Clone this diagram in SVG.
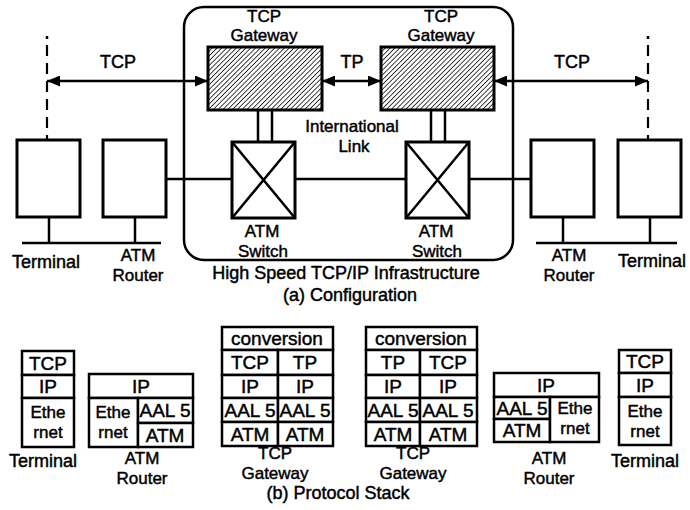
<svg xmlns="http://www.w3.org/2000/svg" width="690" height="510" viewBox="0 0 690 510">
<defs>
<pattern id="hatch" patternUnits="userSpaceOnUse" width="3.4" height="3.4" patternTransform="rotate(45)">
<line x1="0" y1="0" x2="0" y2="3.4" stroke="#000" stroke-width="1.5"/>
</pattern>
<marker id="arr" markerUnits="userSpaceOnUse" markerWidth="13" markerHeight="11" refX="13" refY="5.5" orient="auto-start-reverse">
<path d="M0,0 L13,5.5 L0,11 z" fill="#000"/>
</marker>
</defs>
<style>
text{font-family:"Liberation Sans",Arial,sans-serif;fill:#000;stroke:#000;stroke-width:0.45;text-anchor:middle}
.lb{font-size:18px}
.l2{font-size:17px}
.st{font-size:19px}
.s2{font-size:17px}
.box{fill:#fff;stroke:#000;stroke-width:3}
.gw{fill:url(#hatch);stroke:#000;stroke-width:3}
.ln{stroke:#000;stroke-width:2.5;fill:none}
.cell{fill:#fff;stroke:#000;stroke-width:2.5}
.dash{stroke:#000;stroke-width:2.2;stroke-dasharray:11 7;fill:none}
</style>
<rect width="690" height="510" fill="#fff"/>

<g id="infrastructure">
<rect x="184" y="7" width="329" height="253" rx="20" class="ln"/>
<text class="lb" x="346" y="279">High Speed TCP/IP Infrastructure</text>
</g>
<text class="lb" x="350" y="301">(a) Configuration</text>

<g id="connectors">
<line x1="47" y1="81" x2="208" y2="81" class="ln" marker-start="url(#arr)" marker-end="url(#arr)"/>
<line x1="322" y1="81" x2="381" y2="81" class="ln" marker-start="url(#arr)" marker-end="url(#arr)"/>
<line x1="494" y1="81" x2="648" y2="81" class="ln" marker-start="url(#arr)" marker-end="url(#arr)"/>
<line x1="47" y1="36" x2="47" y2="39" class="ln"/>
<line x1="47" y1="45" x2="47" y2="140" class="dash"/>
<line x1="648" y1="36" x2="648" y2="39" class="ln"/>
<line x1="648" y1="45" x2="648" y2="140" class="dash"/>
<line x1="258" y1="110" x2="258" y2="142" class="ln"/>
<line x1="272" y1="110" x2="272" y2="142" class="ln"/>
<line x1="431" y1="110" x2="431" y2="142" class="ln"/>
<line x1="445" y1="110" x2="445" y2="142" class="ln"/>
<line x1="166" y1="179" x2="232" y2="179" class="ln"/>
<line x1="295" y1="179" x2="406" y2="179" class="ln"/>
<line x1="469" y1="179" x2="531" y2="179" class="ln"/>
<line x1="49" y1="217" x2="49" y2="243" class="ln"/>
<line x1="135" y1="217" x2="135" y2="243" class="ln"/>
<line x1="22" y1="243" x2="161" y2="243" class="ln"/>
<line x1="563" y1="217" x2="563" y2="243" class="ln"/>
<line x1="650" y1="217" x2="650" y2="243" class="ln"/>
<line x1="536" y1="243" x2="677" y2="243" class="ln"/>
<text class="lb" x="118" y="68">TCP</text>
<text class="lb" x="352" y="68">TP</text>
<text class="lb" x="572" y="68">TCP</text>
<text class="l2" x="352" y="132">International</text>
<text class="l2" x="354" y="151.6">Link</text>
</g>

<g id="gateway1">
<rect x="208" y="47" width="114" height="63" class="gw"/>
<text class="l2" x="264" y="21.5">TCP</text>
<text class="l2" x="264" y="41.1">Gateway</text>
</g>
<g id="gateway2">
<rect x="381" y="47" width="113" height="63" class="gw"/>
<text class="l2" x="441" y="21.5">TCP</text>
<text class="l2" x="441" y="41.1">Gateway</text>
</g>

<g id="switch1">
<rect x="232" y="142" width="63" height="76" class="box"/>
<path d="M232,142 L295,218 M295,142 L232,218" class="ln"/>
<text class="l2" x="262" y="237">ATM</text>
<text class="l2" x="263" y="256.6">Switch</text>
</g>
<g id="switch2">
<rect x="406" y="142" width="63" height="76" class="box"/>
<path d="M406,142 L469,218 M469,142 L406,218" class="ln"/>
<text class="l2" x="436" y="237">ATM</text>
<text class="l2" x="437" y="256.6">Switch</text>
</g>

<g id="terminal1">
<rect x="17" y="140" width="63" height="77" class="box"/>
<text class="lb" x="46" y="268">Terminal</text>
</g>
<g id="router1">
<rect x="103" y="140" width="63" height="77" class="box"/>
<text class="l2" x="138" y="261">ATM</text>
<text class="l2" x="138" y="280.6">Router</text>
</g>
<g id="router2">
<rect x="531" y="140" width="63" height="77" class="box"/>
<text class="l2" x="569" y="261">ATM</text>
<text class="l2" x="569" y="280.6">Router</text>
</g>
<g id="terminal2">
<rect x="618" y="140" width="63" height="77" class="box"/>
<text class="lb" x="652" y="267">Terminal</text>
</g>

<g id="stack-terminal1">
<rect x="22" y="351" width="52" height="24" class="cell"/>
<rect x="22" y="375" width="52" height="23" class="cell"/>
<rect x="22" y="398" width="52" height="49" class="cell"/>
<text class="st" x="48" y="370">TCP</text>
<text class="st" x="48" y="393">IP</text>
<text class="s2" x="48" y="418">Ethe</text>
<text class="s2" x="48" y="437.6">rnet</text>
<text class="lb" x="43" y="467">Terminal</text>
</g>

<g id="stack-router1">
<rect x="89" y="374" width="104" height="24" class="cell"/>
<rect x="89" y="398" width="49" height="49" class="cell"/>
<rect x="138" y="398" width="55" height="25" class="cell"/>
<rect x="138" y="423" width="55" height="24" class="cell"/>
<text class="st" x="141" y="393">IP</text>
<text class="s2" x="113" y="418">Ethe</text>
<text class="s2" x="113" y="437.6">rnet</text>
<text class="st" x="165" y="417">AAL 5</text>
<text class="st" x="165" y="442">ATM</text>
<text class="l2" x="142" y="464">ATM</text>
<text class="l2" x="142" y="483.6">Router</text>
</g>

<g id="stack-gateway1">
<rect x="222" y="327" width="111" height="23" class="cell"/>
<rect x="222" y="350" width="56" height="25" class="cell"/>
<rect x="278" y="350" width="55" height="25" class="cell"/>
<rect x="222" y="375" width="56" height="23" class="cell"/>
<rect x="278" y="375" width="55" height="23" class="cell"/>
<rect x="222" y="398" width="56" height="24" class="cell"/>
<rect x="278" y="398" width="55" height="24" class="cell"/>
<rect x="222" y="422" width="56" height="24" class="cell"/>
<rect x="278" y="422" width="55" height="24" class="cell"/>
<text class="st" x="277" y="345">conversion</text>
<text class="st" x="250" y="369">TCP</text>
<text class="st" x="305" y="369">TP</text>
<text class="st" x="250" y="393">IP</text>
<text class="st" x="305" y="393">IP</text>
<text class="st" x="250" y="417">AAL 5</text>
<text class="st" x="305" y="417">AAL 5</text>
<text class="st" x="250" y="441">ATM</text>
<text class="st" x="305" y="441">ATM</text>
<text class="l2" x="275" y="459">TCP</text>
<text class="l2" x="275" y="478.6">Gateway</text>
</g>

<g id="stack-gateway2">
<rect x="366" y="327" width="111" height="23" class="cell"/>
<rect x="366" y="350" width="54" height="25" class="cell"/>
<rect x="420" y="350" width="57" height="25" class="cell"/>
<rect x="366" y="375" width="54" height="23" class="cell"/>
<rect x="420" y="375" width="57" height="23" class="cell"/>
<rect x="366" y="398" width="54" height="24" class="cell"/>
<rect x="420" y="398" width="57" height="24" class="cell"/>
<rect x="366" y="422" width="54" height="24" class="cell"/>
<rect x="420" y="422" width="57" height="24" class="cell"/>
<text class="st" x="421" y="345">conversion</text>
<text class="st" x="393" y="369">TP</text>
<text class="st" x="448" y="369">TCP</text>
<text class="st" x="393" y="393">IP</text>
<text class="st" x="448" y="393">IP</text>
<text class="st" x="393" y="417">AAL 5</text>
<text class="st" x="448" y="417">AAL 5</text>
<text class="st" x="393" y="441">ATM</text>
<text class="st" x="448" y="441">ATM</text>
<text class="l2" x="413" y="459">TCP</text>
<text class="l2" x="413" y="478.6">Gateway</text>
</g>

<g id="stack-router2">
<rect x="494" y="373" width="105" height="24" class="cell"/>
<rect x="494" y="397" width="56" height="22" class="cell"/>
<rect x="494" y="419" width="56" height="23" class="cell"/>
<rect x="550" y="397" width="49" height="45" class="cell"/>
<text class="st" x="546" y="392">IP</text>
<text class="st" x="522" y="415">AAL 5</text>
<text class="st" x="522" y="437">ATM</text>
<text class="s2" x="575" y="414">Ethe</text>
<text class="s2" x="575" y="433.6">rnet</text>
<text class="l2" x="549" y="464">ATM</text>
<text class="l2" x="549" y="483.6">Router</text>
</g>

<g id="stack-terminal2">
<rect x="619" y="350" width="52" height="23" class="cell"/>
<rect x="619" y="373" width="52" height="24" class="cell"/>
<rect x="619" y="397" width="52" height="48" class="cell"/>
<text class="st" x="645" y="368">TCP</text>
<text class="st" x="645" y="392">IP</text>
<text class="s2" x="645" y="417">Ethe</text>
<text class="s2" x="645" y="436.6">rnet</text>
<text class="lb" x="645" y="467">Terminal</text>
</g>

<text class="lb" x="338" y="499">(b) Protocol Stack</text>
</svg>
